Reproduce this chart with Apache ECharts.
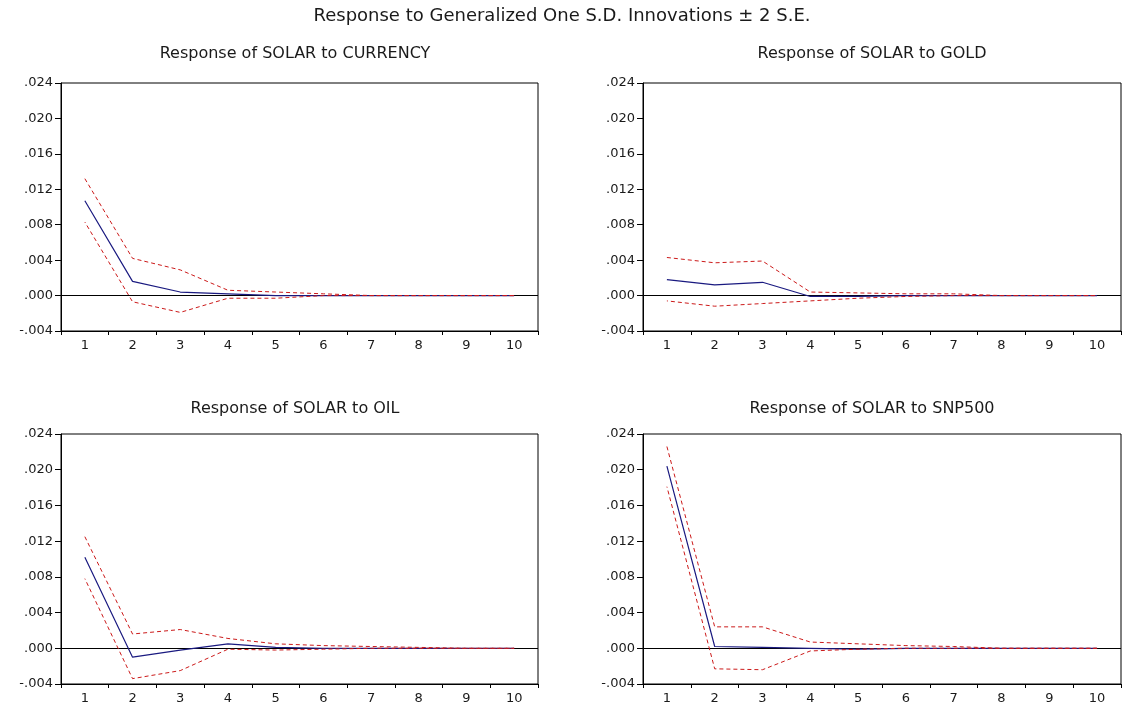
<!DOCTYPE html>
<html>
<head>
<meta charset="utf-8">
<script src="https://cdn.jsdelivr.net/npm/echarts@6/dist/echarts.min.js"></script>
<style>
html,body{margin:0;padding:0;background:#fff;}
#chart{width:1124px;height:712px;}
</style>
</head>
<body>
<div id="chart"></div>
<script>
// ---- data ----
var periods = ['1','2','3','4','5','6','7','8','9','10'];
var yTicks = [-0.004, 0.000, 0.004, 0.008, 0.012, 0.016, 0.020, 0.024];

var currencyResp  = [0.0107, 0.0016, 0.0004, 0.0002, 0.0000, 0.0000, 0.0000, 0.0000, 0.0000, 0.0000];
var currencyUpper = [0.0132, 0.0042, 0.0029, 0.0006, 0.0004, 0.0002, 0.0000, 0.0000, 0.0000, 0.0000];
var currencyLower = [0.0083, -0.0007, -0.0019, -0.0003, -0.0003, 0.0000, 0.0000, 0.0000, 0.0000, 0.0000];

var goldResp  = [0.0018, 0.0012, 0.0015, -0.0001, -0.0001, 0.0000, 0.0000, 0.0000, 0.0000, 0.0000];
var goldUpper = [0.0043, 0.0037, 0.0039, 0.0004, 0.0003, 0.0002, 0.0002, 0.0000, 0.0000, 0.0000];
var goldLower = [-0.0006, -0.0012, -0.0009, -0.0006, -0.0003, -0.0001, 0.0000, 0.0000, 0.0000, 0.0000];

var oilResp  = [0.0102, -0.0010, -0.0002, 0.0005, 0.0001, 0.0000, 0.0000, 0.0000, 0.0000, 0.0000];
var oilUpper = [0.0125, 0.0016, 0.0021, 0.0011, 0.0005, 0.0003, 0.0002, 0.0001, 0.0000, 0.0000];
var oilLower = [0.0078, -0.0034, -0.0025, -0.0001, -0.0002, -0.0001, 0.0000, 0.0000, 0.0000, 0.0000];

var snpResp  = [0.0204, 0.0002, 0.0001, 0.0000, -0.0001, 0.0000, 0.0000, 0.0000, 0.0000, 0.0000];
var snpUpper = [0.0226, 0.0024, 0.0024, 0.0007, 0.0005, 0.0003, 0.0002, 0.0000, 0.0000, 0.0000];
var snpLower = [0.0181, -0.0023, -0.0024, -0.0003, -0.0001, 0.0000, 0.0000, 0.0000, 0.0000, 0.0000];

var mainTitle = 'Response to Generalized One S.D. Innovations \u00B1 2 S.E.';
var panelTitles = ['Response of SOLAR to CURRENCY', 'Response of SOLAR to GOLD',
                   'Response of SOLAR to OIL', 'Response of SOLAR to SNP500'];
var panels = [
  {resp: currencyResp, up: currencyUpper, lo: currencyLower},
  {resp: goldResp, up: goldUpper, lo: goldLower},
  {resp: oilResp, up: oilUpper, lo: oilLower},
  {resp: snpResp, up: snpUpper, lo: snpLower}
];

// ---- layout ----
var FONT = 'DejaVu Sans';
var TXT = '#1a1a1a';
var grids = [
  {left: 61,  top: 83,  width: 477, height: 248},
  {left: 643, top: 83,  width: 478, height: 248},
  {left: 61,  top: 434, width: 477, height: 250},
  {left: 643, top: 434, width: 478, height: 250}
];
var titlePos = [{x: 290, y: 41}, {x: 867, y: 41}, {x: 290, y: 396}, {x: 867, y: 396}];

function fmt(v) {
  var s = (Math.round(v * 1000) / 1000).toFixed(3);
  if (s === '-0.000') s = '0.000';
  return s.replace(/^(-?)0\./, '$1.');
}

var option = {
  backgroundColor: '#ffffff',
  animation: false,
  title: [{
    text: mainTitle, left: 'center', top: 2,
    textStyle: {fontFamily: FONT, fontSize: 18, fontWeight: 'normal', color: TXT}
  }].concat(panelTitles.map(function (t, i) {
    return {
      text: t, left: titlePos[i].x, top: titlePos[i].y, textAlign: 'center',
      textStyle: {fontFamily: FONT, fontSize: 16, fontWeight: 'normal', color: TXT}
    };
  })),
  grid: grids.map(function (g) {
    return {left: g.left, top: g.top, width: g.width, height: g.height,
            show: true, borderColor: '#000', borderWidth: 1, backgroundColor: '#fff'};
  }),
  xAxis: grids.map(function (g, i) {
    return {
      type: 'category', gridIndex: i, data: periods, boundaryGap: true,
      axisLine: {show: true, onZero: false, lineStyle: {color: '#000', width: 1}},
      axisTick: {show: true, inside: false, length: 4, interval: 0, lineStyle: {color: '#000'}},
      axisLabel: {fontFamily: FONT, fontSize: 13, color: TXT, margin: 8, interval: 0},
      splitLine: {show: false}
    };
  }),
  yAxis: grids.map(function (g, i) {
    return {
      type: 'value', gridIndex: i,
      min: yTicks[0], max: yTicks[yTicks.length - 1], interval: 0.004,
      axisLine: {show: true, onZero: false, lineStyle: {color: '#000', width: 1}},
      axisTick: {show: true, inside: false, length: 6, lineStyle: {color: '#000'}},
      axisLabel: {fontFamily: FONT, fontSize: 13, color: TXT, margin: 8, formatter: fmt},
      splitLine: {show: false}
    };
  }),
  series: []
};

panels.forEach(function (p, i) {
  option.series.push({
    type: 'line', xAxisIndex: i, yAxisIndex: i, data: p.resp,
    symbol: 'none', lineStyle: {color: '#1a1a80', width: 1.2}, z: 3,
    markLine: {
      silent: true, symbol: 'none', label: {show: false},
      lineStyle: {color: '#000', width: 1.2, type: 'solid'},
      data: [{yAxis: 0}], z: 2
    }
  });
  option.series.push({
    type: 'line', xAxisIndex: i, yAxisIndex: i, data: p.up,
    symbol: 'none', lineStyle: {color: '#cc1a1a', width: 1, type: [4, 3]}, z: 4
  });
  option.series.push({
    type: 'line', xAxisIndex: i, yAxisIndex: i, data: p.lo,
    symbol: 'none', lineStyle: {color: '#cc1a1a', width: 1, type: [4, 3], dashOffset: 3}, z: 4
  });
});

var chart = echarts.init(document.getElementById('chart'), null, {renderer: 'canvas'});
chart.setOption(option);
</script>
</body>
</html>
